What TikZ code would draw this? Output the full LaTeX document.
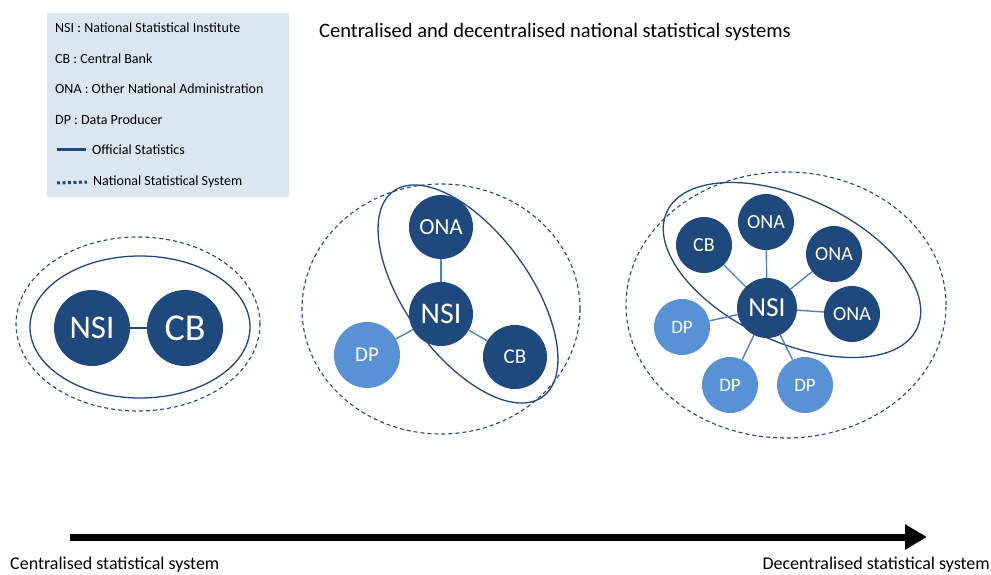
\documentclass[tikz,border=0pt]{standalone}
\usepackage{fontspec}
\setmainfont{Carlito}
\usetikzlibrary{arrows.meta}

\begin{document}
\begin{tikzpicture}[x=1pt,y=-1pt,
  org/.style={circle,fill=navy,text=white,inner sep=0pt},
  prod/.style={circle,fill=skyblue,text=white,inner sep=0pt},
  link/.style={draw=linkblue,line width=1.4pt},
  official/.style={draw=navy,line width=1.3pt},
  nss/.style={draw=navy,line width=1.1pt,dash pattern=on 4pt off 3pt},
  legendtext/.style={anchor=west,inner sep=0pt,font=\fontsize{14}{16}\selectfont}]
\definecolor{navy}{RGB}{31,73,125} % Definition of the dark circle color
\definecolor{skyblue}{RGB}{88,146,213} % Definition of the data producer color
\definecolor{linkblue}{RGB}{79,129,189} % Definition of the link color
\definecolor{legendfill}{RGB}{220,230,242} % Definition of the legend background
\useasboundingbox (0,0) rectangle (991,575); % Page size

% Legend
\fill[legendfill] (47,13) rectangle (289,197); % Legend box
\node[legendtext] (kNSI) at (55,28) {NSI : National Statistical Institute};
\node[legendtext] (kCB) at (55,59) {CB : Central Bank};
\node[legendtext] (kONA) at (55,89) {ONA : Other National Administration};
\node[legendtext] (kDP) at (55,120) {DP : Data Producer};
\node[legendtext] (kOS) at (92,150) {Official Statistics};
\node[legendtext] (kNSS) at (93,182) {National Statistical System};
\draw[navy,line width=3pt] (57,150) -- (kOS.west -| 86,150); % Solid sample
\draw[navy,line width=3pt,dash pattern=on 3pt off 2.5pt] (57,183) -- (kNSS.west -| 87,183); % Dotted sample

% Title
\node[font=\fontsize{20.5}{23}\selectfont] (title) at (555,32) {Centralised and decentralised national statistical systems};

% Centralised system
\draw[nss] (138,324) ellipse (122pt and 87pt); % National statistical system
\draw[official] (140,327) ellipse (110pt and 71pt); % Official statistics
\node[org,minimum size=76pt,font=\fontsize{33}{36}\selectfont] (aNSI) at (92,328) {NSI};
\node[org,minimum size=76pt,font=\fontsize{38}{40}\selectfont] (aCB) at (185,328) {CB};
\draw[navy,line width=1.4pt] (aNSI) -- (aCB);

% Intermediate system
\draw[nss] (441,309) ellipse (139pt and 125pt); % National statistical system
\draw[official,rotate around={-54:(468,294)}] (468,294) ellipse (127pt and 62pt); % Official statistics
\node[org,minimum size=64pt,font=\fontsize{30}{32}\selectfont] (bNSI) at (441,314) {NSI};
\node[org,minimum size=64pt,font=\fontsize{23}{25}\selectfont] (bONA) at (441,227) {ONA};
\node[org,minimum size=64pt,font=\fontsize{21}{24}\selectfont] (bCB) at (515,357) {CB};
\node[prod,minimum size=66pt,font=\fontsize{21}{24}\selectfont] (bDP) at (367,355) {DP};
\draw[link] (bNSI) -- (bONA);
\draw[link] (bNSI) -- (bCB);
\draw[link] (bNSI) -- (bDP);

% Decentralised system
\draw[nss] (786,305) ellipse (160pt and 133pt); % National statistical system
\draw[official,rotate around={-25:(792,270)}] (792,270) ellipse (138pt and 72pt); % Official statistics
\node[org,minimum size=60pt,font=\fontsize{27.5}{30}\selectfont] (cNSI) at (767,308) {NSI};
\node[org,minimum size=56pt,font=\fontsize{20}{22}\selectfont] (cCB) at (704,245) {CB};
\node[org,minimum size=56pt,font=\fontsize{20}{22}\selectfont] (cONAa) at (766,222) {ONA};
\node[org,minimum size=56pt,font=\fontsize{20}{22}\selectfont] (cONAb) at (834,254) {ONA};
\node[org,minimum size=56pt,font=\fontsize{20}{22}\selectfont] (cONAc) at (852,314) {ONA};
\node[prod,minimum size=56pt,font=\fontsize{19}{22}\selectfont] (cDPa) at (682,327) {DP};
\node[prod,minimum size=56pt,font=\fontsize{19}{22}\selectfont] (cDPb) at (730,385) {DP};
\node[prod,minimum size=56pt,font=\fontsize{19}{22}\selectfont] (cDPc) at (805,385) {DP};
\foreach \n in {cCB,cONAa,cONAb,cONAc,cDPa,cDPb,cDPc}
  \draw[link] (cNSI) -- (\n);

% Scale from centralised to decentralised
\coordinate (left) at (70,537);
\coordinate (right) at (927,537);
\draw[line width=7pt,-{Triangle[length=22pt,width=24pt]}] (left) -- (right);
\node[anchor=west,inner sep=0pt,font=\fontsize{18}{20}\selectfont] (cs) at (10,565) {Centralised statistical system};
\node[anchor=east,inner sep=0pt,font=\fontsize{18}{20}\selectfont] (ds) at (990,565) {Decentralised statistical system};
\end{tikzpicture}
\end{document}
